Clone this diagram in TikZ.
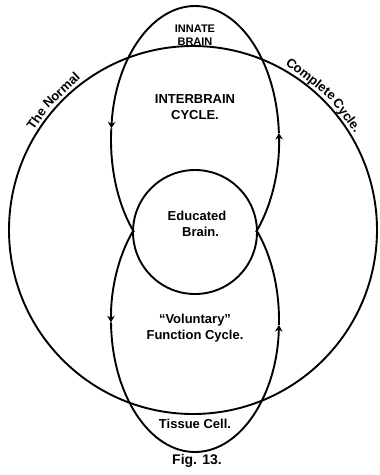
\documentclass[tikz,border=0pt]{standalone}
\usepackage{fontspec}
\setmainfont{Liberation Sans}
\usetikzlibrary{arrows.meta}
\begin{document}
\begin{tikzpicture}[x=1pt,y=1pt,line width=1.9pt,
  lbl/.style={font=\bfseries\fontsize{13}{16}\selectfont, align=center, inner sep=0pt},
  rim/.style={font=\bfseries\fontsize{13}{15}\selectfont, inner sep=0pt, anchor=base},
  tip/.style={-{Stealth[length=6.5pt,width=7.5pt]}},
  upper/.style={shift={(195,-140)}},
  lower/.style={shift={(195,-320)}}]
\useasboundingbox (0,0) rectangle (380,-475);
\fill[white] (0,0) rectangle (380,-475);

% the normal complete cycle
\node[circle, draw, minimum size=368pt, inner sep=0pt] (big) at (193,-230) {};
% educated brain circle
\node[circle, draw, minimum size=124pt, inner sep=0pt] (edu) at (195,-232) {};

% interbrain cycle (upper oval)
\draw[tip, upper] (-43.4:84 and 134) arc[start angle=-43.4, end angle=3, x radius=84, y radius=134];
\draw[tip, upper] (3:84 and 134) arc[start angle=3, end angle=175, x radius=84, y radius=134];
\draw[upper] (175:84 and 134) arc[start angle=175, end angle=223.4, x radius=84, y radius=134];

% voluntary function cycle (lower oval)
\draw[tip, lower] (138.2:84 and 132) arc[start angle=138.2, end angle=181, x radius=84, y radius=132];
\draw[tip, lower] (181:84 and 132) arc[start angle=181, end angle=357.8, x radius=84, y radius=132];
\draw[lower] (357.8:84 and 132) arc[start angle=357.8, end angle=401.8, x radius=84, y radius=132];

% labels
\node[lbl, font=\bfseries\fontsize{11}{13}\selectfont] (innate) at (195,-35) {INNATE\\BRAIN};
\node[lbl] (inter) at (195,-107) {INTERBRAIN\\CYCLE.};
\node[lbl] (educ) at (197,-224) {Educated\\\ \ Brain.};
\node[lbl] (volun) at (195,-328) {``Voluntary''\\Function Cycle.};
\node[lbl] (tissue) at (195,-424) {Tissue Cell.};
\node[lbl, font=\bfseries\fontsize{14}{16}\selectfont] (fig) at (197,-461) {Fig. 13.};

\begin{scope}[shift={(193,-230)}]
\node[rim, rotate=54.6] (the) at (144.6:187.5) {The};
\node[rim, rotate=43.3] (normal) at (133.3:187.5) {Normal};
\node[rim, rotate=-38] (complete) at (52:187.5) {Complete};
\node[rim, rotate=-53.4] (cycle) at (36.6:187.5) {Cycle.};
\end{scope}
\end{tikzpicture}
\end{document}
